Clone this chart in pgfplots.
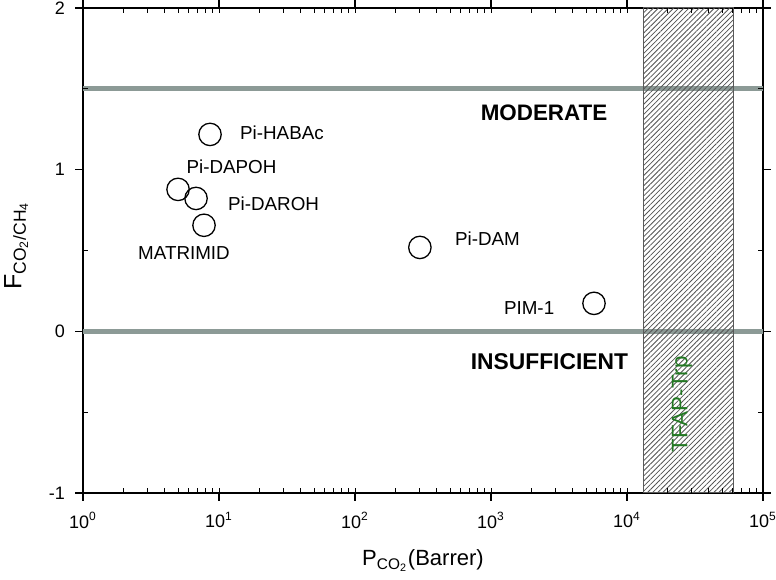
\documentclass[border=0pt]{standalone}
\usepackage{fontspec}
\setmainfont{Liberation Sans}
\usepackage{pgfplots}
\pgfplotsset{compat=1.18}
\usetikzlibrary{patterns.meta}
\definecolor{limgray}{RGB}{140,154,150}
\definecolor{tfapgreen}{RGB}{34,120,34}

\begin{document}
\begin{tikzpicture}
% main axis: data, major ticks outside
\begin{axis}[
  scale only axis,
  width=340pt,
  height=242.5pt,
  xmode=log,
  xmin=1, xmax=100000,
  ymin=-1, ymax=2,
  xtick={1,10,100,1000,10000,100000},
  xticklabels={10\textsuperscript{0},10\textsuperscript{1},10\textsuperscript{2},10\textsuperscript{3},10\textsuperscript{4},10\textsuperscript{5}},
  ytick={-1,0,1,2},
  yticklabels={-1,0,1,2},
  xminorticks=false,
  yminorticks=false,
  tick align=outside,
  major tick length=4pt,
  tick style={black, line width=0.6pt},
  axis line style={black, line width=0.9pt},
  tick label style={font=\fontsize{9}{11}\selectfont},
  xticklabel style={yshift=-2pt},
  yticklabel style={xshift=-1.5pt},
  xlabel={P\textsubscript{CO\textsubscript{2}}(Barrer)},
  ylabel={F\textsubscript{CO\textsubscript{2}/CH\textsubscript{4}}},
  xlabel style={font=\fontsize{11}{13}\selectfont, yshift=-4pt},
  ylabel style={font=\fontsize{12.5}{14}\selectfont, xshift=2.5pt},
  ylabel shift=3.5pt,
  clip=false,
]
\coordinate (sw) at (rel axis cs:0,0);
\coordinate (ne) at (rel axis cs:1,1);
% limit lines
\addplot[limgray, line width=2.6pt, forget plot] coordinates {(1,1.5) (100000,1.5)};
\addplot[limgray, line width=2.6pt, forget plot] coordinates {(1,0) (100000,0)};
% TFAP-Trp band
\addplot[draw=gray!70!black, line width=0.5pt,
  pattern={Lines[angle=45, distance=1.8pt, line width=0.4pt]},
  pattern color=gray!65!black] coordinates
  {(13330,-1) (61200,-1) (61200,2) (13330,2)} -- cycle;
% membranes
\addplot[only marks, mark=o, mark size=5.6pt, mark options={line width=0.65pt, black, fill=white}]
  coordinates {
  (8.59,1.218)
  (5.0,0.878)
  (6.78,0.822)
  (7.76,0.656)
  (300,0.519)
  (5720,0.173)
};
\node[anchor=west, font=\fontsize{9.4}{11}\selectfont] at (axis cs:12.7,1.231) {Pi-HABAc};
\node[font=\fontsize{9.4}{11}\selectfont] at (axis cs:12.36,1.02) {Pi-DAPOH};
\node[anchor=west, font=\fontsize{9.4}{11}\selectfont] at (axis cs:10.35,0.792) {Pi-DAROH};
\node[font=\fontsize{9.4}{11}\selectfont] at (axis cs:5.53,0.482) {MATRIMID};
\node[anchor=west, font=\fontsize{9.4}{11}\selectfont] at (axis cs:483,0.575) {Pi-DAM};
\node[anchor=west, font=\fontsize{9.4}{11}\selectfont] at (axis cs:1107,0.142) {PIM-1};
\node[font=\bfseries\fontsize{11.2}{13}\selectfont] at (axis cs:2455,1.354) {MODERATE};
\node[anchor=east, font=\bfseries\fontsize{11.4}{13}\selectfont] at (axis cs:11450,-0.186) {INSUFFICIENT};
\node[rotate=90, text=tfapgreen, font=\fontsize{11.2}{13}\selectfont] at (axis cs:25360,-0.451) {TFAP-Trp};
\end{axis}
% minor ticks inside
\begin{axis}[
  scale only axis,
  width=340pt,
  height=242.5pt,
  xmode=log,
  xmin=1, xmax=100000,
  ymin=-1, ymax=2,
  xtick={1,10,100,1000,10000,100000},
  minor ytick={-0.5,0.5,1.5},
  ytick={-1,0,1,2},
  xmajorticks=false,
  ymajorticks=false,
  xticklabels={}, yticklabels={},
  tick align=inside,
  minor tick length=2.5pt,
  minor tick style={black, line width=0.5pt},
  axis line style={draw=none},
]
\end{axis}
\pgfresetboundingbox
\path ([shift={(-41.5pt,-43.5pt)}]sw) rectangle ([shift={(6.5pt,4pt)}]ne);
\end{tikzpicture}
\end{document}
